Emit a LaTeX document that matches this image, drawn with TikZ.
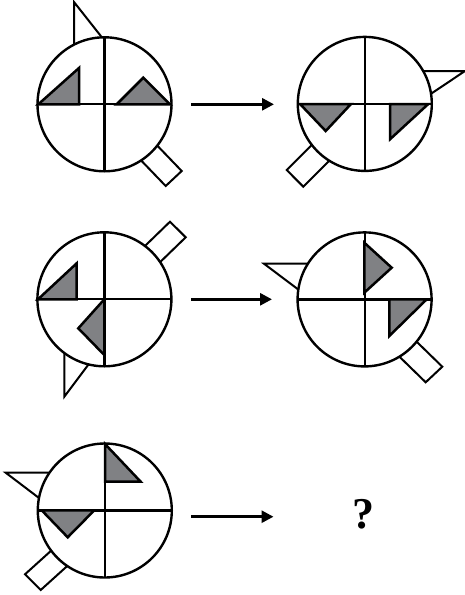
\documentclass[tikz,border=0pt]{standalone}
\usepackage{fontspec}
\setmainfont{Liberation Serif}
\usetikzlibrary{arrows.meta}
\definecolor{tri}{RGB}{128,129,132}
\tikzset{
  ring/.style={draw=black, fill=white, line width=2.4pt},
  crossline/.style={draw=black, line width=2.2pt},
  tribox/.style={draw=black, fill=tri, line width=2.5pt, line join=miter},
  deco/.style={draw=black, fill=white, line width=2pt, line join=miter},
  arr/.style={draw=black, line width=2.8pt, -{Triangle[length=12pt,width=12pt]}}
}
\begin{document}
\begin{tikzpicture}[x=1pt,y=-1pt]
\useasboundingbox (0,0) rectangle (465,595);
% centers
\coordinate (c1) at (104.5,104.3);
\coordinate (c2) at (364.8,103.9);
\coordinate (c3) at (104.4,299.3);
\coordinate (c4) at (364.6,299.4);
\coordinate (c5) at (104.8,510.5);

% ---------- circle 1 ----------
\draw[deco] (74,2) -- (115.8,55) -- (74,55) -- cycle;
\draw[deco] (181.7,171) -- (165.7,186) -- (120.9,139.4) -- (136.9,124.4) -- cycle;
\draw[ring] (c1) circle (67);
\draw[crossline] ([xshift=-67pt]c1) -- ([xshift=67pt]c1);
\draw[crossline] ([yshift=67pt]c1) -- ([yshift=-67pt]c1);
\draw[tribox] (38.3,104.3) -- (79,68) -- (79,104.3) -- cycle;
\draw[tribox] (116.7,104.3) -- (143.3,77.7) -- (170,104.3) -- cycle;

% ---------- circle 2 ----------
\draw[deco] (465,71) -- (415,104.5) -- (410,71) -- cycle;
\draw[deco] (286.7,170) -- (303.3,186.7) -- (349.9,140.1) -- (333.3,123.4) -- cycle;
\draw[ring] (c2) circle (67);
\draw[crossline] ([xshift=-67pt]c2) -- ([xshift=67pt]c2);
\draw[crossline] ([yshift=67pt]c2) -- ([yshift=-67pt]c2);
\draw[tribox] (300,104) -- (351,104) -- (325.7,131) -- cycle;
\draw[tribox] (390,104) -- (428.3,104) -- (390,139.3) -- cycle;

% ---------- circle 3 ----------
\draw[deco] (64.3,396.7) -- (101.1,347.6) -- (64.3,347.6) -- cycle;
\draw[deco] (170,221.7) -- (185.7,237.3) -- (139.1,282.5) -- (123.4,266.9) -- cycle;
\draw[ring] (c3) circle (67);
\draw[crossline] ([xshift=-67pt]c3) -- ([xshift=67pt]c3);
\draw[crossline] ([yshift=67pt]c3) -- ([yshift=-67pt]c3);
\draw[tribox] (38,299.3) -- (76.7,263.3) -- (76.7,299.3) -- cycle;
\draw[tribox] (104.3,299.3) -- (78.3,328.3) -- (104.3,355) -- cycle;

% ---------- circle 4 ----------
\draw[deco] (264,263.7) -- (316.3,303.1) -- (316.3,263.7) -- cycle;
\draw[deco] (442.3,366.7) -- (425.7,382.3) -- (377.7,335.5) -- (394.3,319.9) -- cycle;
\draw[ring] (c4) circle (67);
\draw[crossline] ([xshift=-67pt]c4) -- ([xshift=67pt]c4);
\draw[crossline] ([yshift=67pt]c4) -- ([yshift=-67pt]c4);
\draw[tribox] (364.3,242.7) -- (391.7,267.7) -- (364.3,292.7) -- cycle;
\draw[tribox] (389.3,299.3) -- (426.7,299.3) -- (389.3,336) -- cycle;

% ---------- circle 5 ----------
\draw[deco] (5.7,472.7) -- (56.3,511.1) -- (56.3,472.7) -- cycle;
\draw[deco] (25,574.3) -- (40.7,590) -- (90.7,544.8) -- (75,529.1) -- cycle;
\draw[ring] (c5) circle (67);
\draw[crossline] ([xshift=-67pt]c5) -- ([xshift=67pt]c5);
\draw[crossline] ([yshift=67pt]c5) -- ([yshift=-67pt]c5);
\draw[tribox] (105,444) -- (105,481.7) -- (140.7,481.7) -- cycle;
\draw[tribox] (41.7,510.3) -- (94.3,510.3) -- (67.7,537.3) -- cycle;

% ---------- arrows ----------
\coordinate (a1s) at (191,104.3); \coordinate (a1e) at (274,104.3);
\coordinate (a2s) at (191,299.3); \coordinate (a2e) at (272,299.3);
\coordinate (a3s) at (191,516.7); \coordinate (a3e) at (273.5,516.7);
\draw[arr] (a1s) -- (a1e);
\draw[arr] (a2s) -- (a2e);
\draw[arr] (a3s) -- (a3e);

\node[inner sep=0] (q) at (363.3,514) {\fontsize{44}{44}\selectfont\bfseries ?};
\end{tikzpicture}
\end{document}
